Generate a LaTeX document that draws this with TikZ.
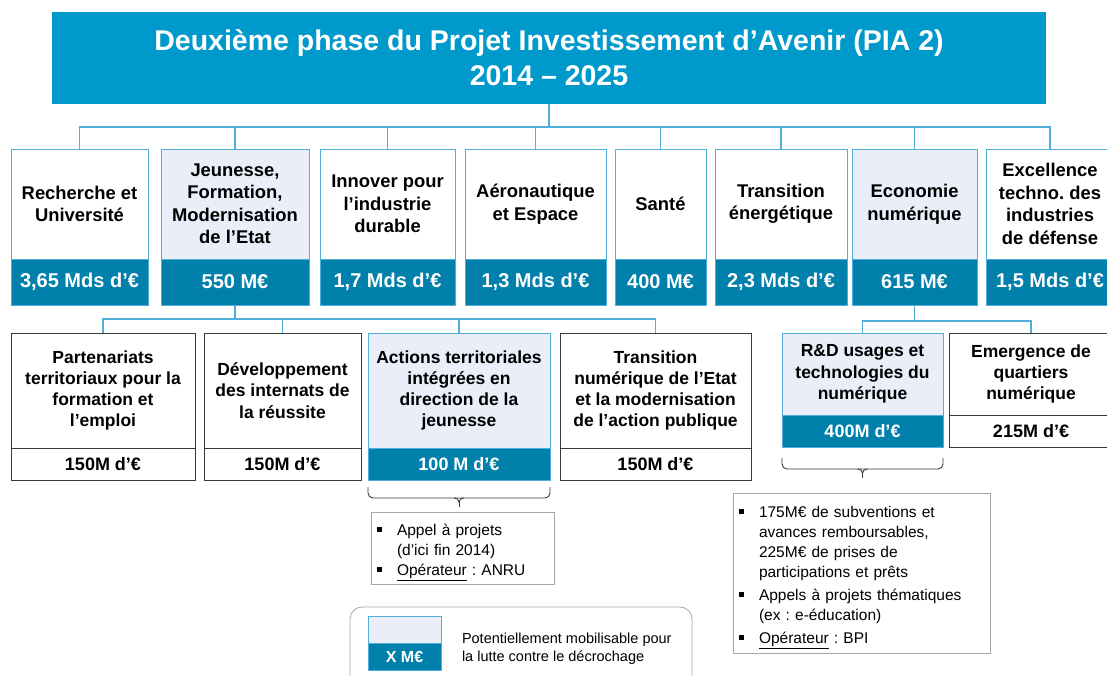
\documentclass[tikz,border=0pt]{standalone}
\usepackage{fontspec}
\setmainfont{Liberation Sans}
\usepackage{tikz}
\definecolor{Ocean}{HTML}{0099CC}
\definecolor{Deep}{HTML}{0080AA}
\definecolor{Sky}{HTML}{4FAFD9}
\definecolor{Haze}{HTML}{E9EEF9}
\definecolor{Ink}{HTML}{3A3A3A}
\definecolor{Ash}{HTML}{A6A6A6}
\newcommand{\sqitem}{\par\hangindent=20pt\hangafter=1\noindent\makebox[20pt][l]{\rule[3.5pt]{4.5pt}{4.5pt}}}
\frenchspacing

\begin{document}
\begin{tikzpicture}[x=1pt,y=-1pt,every node/.style={inner sep=0pt,outer sep=0pt},
  head/.style={fill=Ocean,text=white,align=center,minimum width=994,minimum height=92,font=\bfseries\fontsize{28.5}{35}\selectfont},
  axis/.style={draw=Sky,line width=0.9pt,align=center,minimum height=110,font=\bfseries\fontsize{18.4}{22.5}\selectfont},
  axisamt/.style={draw=Sky,line width=0.9pt,fill=Deep,text=white,minimum height=46,font=\bfseries\fontsize{20}{22}\selectfont},
  act/.style={draw=Ink,fill=white,line width=0.9pt,align=center,font=\bfseries\fontsize{17.5}{21.3}\selectfont},
  actamt/.style={draw=Ink,fill=white,line width=0.9pt,minimum height=32,font=\bfseries\fontsize{18}{20}\selectfont},
  link/.style={draw=Sky,line width=1.1pt},
  note/.style={draw=Ash,line width=0.8pt,fill=white,inner xsep=6pt,align=left,font=\fontsize{15.5}{20}\selectfont},
  bracket/.style={draw=Ink,line width=0.9pt,rounded corners=5pt}]
  \useasboundingbox (0,0) rectangle (1107,675);

  \node[head] (head) at (549,58) {Deuxième phase du Projet Investissement d’Avenir (PIA 2)\\2014 – 2025};

  % les huit axes
  \foreach \n/\cx/\w/\f/\lab/\amt in {
      1/79.5/137/white/{Recherche et\\Université}/{3,65 Mds d’€},
      2/235/148/Haze/{Jeunesse,\\Formation,\\Modernisation\\de l’Etat}/{550 M€},
      3/387.5/135/white/{Innover pour\\l’industrie\\durable}/{1,7 Mds d’€},
      4/535.5/141/white/{Aéronautique\\et Espace}/{1,3 Mds d’€},
      5/660.5/91/white/{Santé}/{400 M€},
      6/781/132/white/{Transition\\énergétique}/{2,3 Mds d’€},
      7/914.5/125/Haze/{Economie\\numérique}/{615 M€},
      8/1050/128/white/{Excellence\\techno. des\\industries\\de défense}/{1,5 Mds d’€}}{
    \node[axis,fill=\f,minimum width=\w] (axe\n) at (\cx,204) {\lab};
    \node[axisamt,minimum width=\w] (axeM\n) at (\cx,282) {\amt};
    \draw[link] (head.south) -- ++(0,23) -| (axe\n.north);
  }

  % actions jeunesse
  \foreach \n/\cx/\w/\lab/\amt in {
      1/103/184/{Partenariats\\territoriaux pour la\\formation et\\l’emploi}/{150M d’€},
      2/282.5/157/{Développement\\des internats de\\la réussite}/{150M d’€},
      3/459/182/{Actions territoriales\\intégrées en\\direction de la\\jeunesse}/{100 M d’€},
      4/655.5/191/{Transition\\numérique de l’Etat\\et la modernisation\\de l’action publique}/{150M d’€}}{
    \ifnum\n=3
      \node[act,draw=Sky,fill=Haze,minimum width=\w,minimum height=115] (act\n) at (\cx,390.5) {\lab};
      \node[actamt,draw=Sky,fill=Deep,text=white,minimum width=\w] (actM\n) at (\cx,464) {\amt};
    \else
      \node[act,minimum width=\w,minimum height=115] (act\n) at (\cx,390.5) {\lab};
      \node[actamt,minimum width=\w] (actM\n) at (\cx,464) {\amt};
    \fi
    \draw[link] (axeM2.south) -- ++(0,14) -| (act\n.north);
  }

  % actions numerique
  \foreach \n/\cx/\lab/\amt in {
      1/862.5/{R\&D usages et\\technologies du\\numérique}/{400M d’€},
      2/1031/{Emergence de\\quartiers\\numérique}/{215M d’€}}{
    \ifnum\n=1
      \node[act,draw=Sky,fill=Haze,minimum width=161,minimum height=82] (num\n) at (\cx,374) {\lab};
      \node[actamt,draw=Sky,fill=Deep,text=white,minimum width=161] (numM\n) at (\cx,431) {\amt};
    \else
      \node[act,minimum width=164,minimum height=82] (num\n) at (\cx,374) {\lab};
      \node[actamt,minimum width=164] (numM\n) at (\cx,431) {\amt};
    \fi
    \draw[link] (axeM7.south) -- ++(0,16) -| (num\n.north);
  }

  % accolades
  \foreach \b/\d in {actM3/7,numM1/11}{
    \draw[bracket] ([yshift=-\d pt]\b.south west) -- ([yshift=-\d pt-11pt]\b.south west)
      -- ([yshift=-\d pt-11pt]\b.south east) -- ([yshift=-\d pt]\b.south east);
    \draw[draw=Ink,line width=0.9pt] ([xshift=-5pt,yshift=-\d pt-11pt]\b.south) to[out=0,in=90] ([yshift=-\d pt-15pt]\b.south)
      to[out=90,in=180] ([xshift=5pt,yshift=-\d pt-11pt]\b.south);
    \draw[draw=Ink,line width=0.9pt] ([yshift=-\d pt-15pt]\b.south) -- ([yshift=-\d pt-20pt]\b.south);
  }

  % precisions
  \node[note,text width=171,minimum height=72] (note1) at (462.5,548)
    {\sqitem Appel à projets\newline (d’ici fin 2014)\sqitem \underline{Opérateur} : ANRU};
  \node[note,text width=245,minimum height=160] (note2) at (861.5,573)
    {\sqitem 175M€ de subventions et\newline avances remboursables,\newline 225M€ de prises de\newline participations et prêts\par\vspace{3pt}%
     \sqitem Appels à projets thématiques\newline (ex : e-éducation)\par\vspace{3pt}%
     \sqitem \underline{Opérateur} : BPI};

  % legende
  \node[draw=Ash,line width=0.8pt,rounded corners=12pt,minimum width=342,minimum height=90] (legend) at (521,652) {};
  \node[draw=Sky,fill=Haze,line width=0.9pt,minimum width=73,minimum height=27] (keyTop) at (404.5,629.5) {};
  \node[draw=Sky,fill=Deep,line width=0.9pt,text=white,minimum width=73,minimum height=27,font=\bfseries\fontsize{16}{18}\selectfont] (keyAmt) at (404.5,656.5) {X M€};
  \node[anchor=west,align=left,font=\fontsize{14.5}{18}\selectfont] (keyTxt) at (462,648.5)
    {Potentiellement mobilisable pour\\la lutte contre le décrochage};
\end{tikzpicture}
\end{document}
